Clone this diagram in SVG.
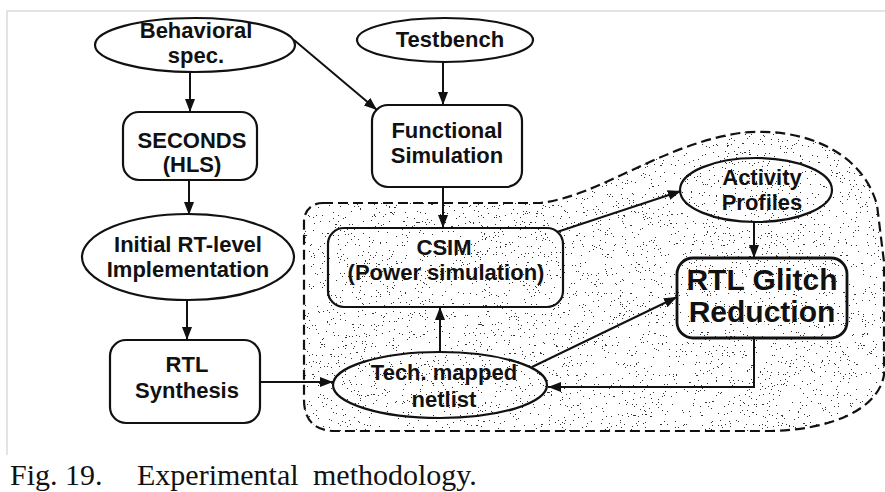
<svg xmlns="http://www.w3.org/2000/svg" width="885" height="492" viewBox="0 0 885 492">
  <style>
    .shape { fill: none; stroke: #111; stroke-width: 2.2; }
    .bold { stroke-width: 2.8; }
    .lbl { font-family: "Liberation Sans", Arial, sans-serif; font-weight: bold; font-size: 22px; fill: #111; text-anchor: middle; }
    .big { font-size: 30px; }
    .edge { fill: none; stroke: #111; stroke-width: 2; }
    .cap { font-family: "Liberation Serif", "Times New Roman", serif; font-size: 30px; fill: #111; }
  </style>
  <defs>
    <marker id="arrow" markerUnits="userSpaceOnUse" markerWidth="14" markerHeight="12" refX="13" refY="5" orient="auto">
      <path d="M0,0 L13,5 L0,10 Z" fill="#111"/>
    </marker>
    <!-- grainy stipple used for the shaded region -->
    <filter id="stipple" x="0" y="0" width="100%" height="100%" filterUnits="userSpaceOnUse">
      <feTurbulence type="fractalNoise" baseFrequency="0.55 1.1" numOctaves="2" seed="7" result="noise"/>
      <feColorMatrix in="noise" type="matrix" values="0 0 0 0 0  0 0 0 0 0  0 0 0 0 0  1.6 0 0 0 -0.45"/>
      <feComponentTransfer>
        <feFuncA type="discrete" tableValues="0 0 0 0 0 0 0 0 0 0 0 0 0 0 0.8 0.8 0.8 0.8 0.8 0.8"/>
      </feComponentTransfer>
    </filter>
    <clipPath id="regionClip">
      <path d="M323,203 L540,203 C600,196 660,145 740,133 C800,126 862,150 877,205 L884,262 L884,375 C878,410 830,430 770,431 L335,431 C315,431 304,420 304,400 L304,222 C304,210 312,203 323,203 Z"/>
    </clipPath>
  </defs>

  <rect width="885" height="492" fill="#fff"/>
  <!-- faint frame of the figure -->
  <path d="M7,455 L7,11 L885,11" fill="none" stroke="#dcdcdc" stroke-width="1.5"/>

  <!-- shaded power-optimisation region -->
  <g id="region">
    <rect x="300" y="125" width="585" height="310" fill="#000" filter="url(#stipple)" clip-path="url(#regionClip)"/>
    <path d="M323,203 L540,203 C600,196 660,145 740,133 C800,126 862,150 877,205 L884,262 L884,375 C878,410 830,430 770,431 L335,431 C315,431 304,420 304,400 L304,222 C304,210 312,203 323,203 Z" fill="none" stroke="#111" stroke-width="2.2" stroke-dasharray="10,5"/>
  </g>

  <g id="connectors">
    <line class="edge" x1="190" y1="72" x2="190" y2="112" marker-end="url(#arrow)"/>
    <line class="edge" x1="294" y1="40" x2="377" y2="110" marker-end="url(#arrow)"/>
    <line class="edge" x1="443" y1="62" x2="443" y2="105" marker-end="url(#arrow)"/>
    <line class="edge" x1="189" y1="180" x2="189" y2="215" marker-end="url(#arrow)"/>
    <line class="edge" x1="443" y1="187" x2="443" y2="228" marker-end="url(#arrow)"/>
    <line class="edge" x1="187" y1="300" x2="187" y2="340" marker-end="url(#arrow)"/>
    <line class="edge" x1="260" y1="382" x2="333" y2="382" marker-end="url(#arrow)"/>
    <line class="edge" x1="440" y1="352" x2="440" y2="307" marker-end="url(#arrow)"/>
    <line class="edge" x1="557" y1="232" x2="681" y2="191" marker-end="url(#arrow)"/>
    <line class="edge" x1="754" y1="222" x2="754" y2="258" marker-end="url(#arrow)"/>
    <line class="edge" x1="532" y1="367" x2="677" y2="297" marker-end="url(#arrow)"/>
    <polyline class="edge" points="754,338 754,387 548,387" marker-end="url(#arrow)"/>
  </g>

  <g id="behavioral-spec">
    <ellipse class="shape" cx="195" cy="45" rx="100" ry="27"/>
    <text class="lbl" x="196" y="38">Behavioral</text>
    <text class="lbl" x="196" y="63">spec.</text>
  </g>
  <g id="testbench">
    <ellipse class="shape" cx="445" cy="40" rx="88" ry="22"/>
    <text class="lbl" x="450" y="47">Testbench</text>
  </g>
  <g id="seconds">
    <rect class="shape" x="123" y="112" width="134" height="68" rx="16"/>
    <text class="lbl" x="192" y="148">SECONDS</text>
    <text class="lbl" x="192" y="172">(HLS)</text>
  </g>
  <g id="functional-simulation">
    <rect class="shape" x="372" y="105" width="150" height="82" rx="16"/>
    <text class="lbl" x="447" y="138">Functional</text>
    <text class="lbl" x="447" y="163">Simulation</text>
  </g>
  <g id="initial-rt">
    <ellipse class="shape" cx="188" cy="257" rx="106" ry="43"/>
    <text class="lbl" x="188" y="252">Initial RT-level</text>
    <text class="lbl" x="188" y="277">Implementation</text>
  </g>
  <g id="rtl-synthesis">
    <rect class="shape" x="110" y="340" width="150" height="83" rx="16"/>
    <text class="lbl" x="187" y="372">RTL</text>
    <text class="lbl" x="187" y="398">Synthesis</text>
  </g>
  <g id="csim">
    <rect class="shape" x="328" y="228" width="235" height="79" rx="16"/>
    <text class="lbl" x="444" y="255">CSIM</text>
    <text class="lbl" x="446" y="280">(Power simulation)</text>
  </g>
  <g id="tech-mapped-netlist">
    <ellipse class="shape" cx="440" cy="385" rx="107" ry="33"/>
    <text class="lbl" x="444" y="380">Tech. mapped</text>
    <text class="lbl" x="444" y="407">netlist</text>
  </g>
  <g id="activity-profiles">
    <ellipse class="shape" cx="756" cy="190" rx="76" ry="32"/>
    <text class="lbl" x="762" y="185">Activity</text>
    <text class="lbl" x="762" y="210">Profiles</text>
  </g>
  <g id="rtl-glitch-reduction">
    <rect class="shape bold" x="677" y="258" width="170" height="80" rx="16"/>
    <text class="lbl big" x="762" y="290">RTL Glitch</text>
    <text class="lbl big" x="762" y="322">Reduction</text>
  </g>

  <g id="caption">
    <text class="cap" x="10" y="485">Fig. 19.</text>
    <text class="cap" x="137" y="485">Experimental</text>
    <text class="cap" x="313" y="485">methodology.</text>
  </g>
</svg>
